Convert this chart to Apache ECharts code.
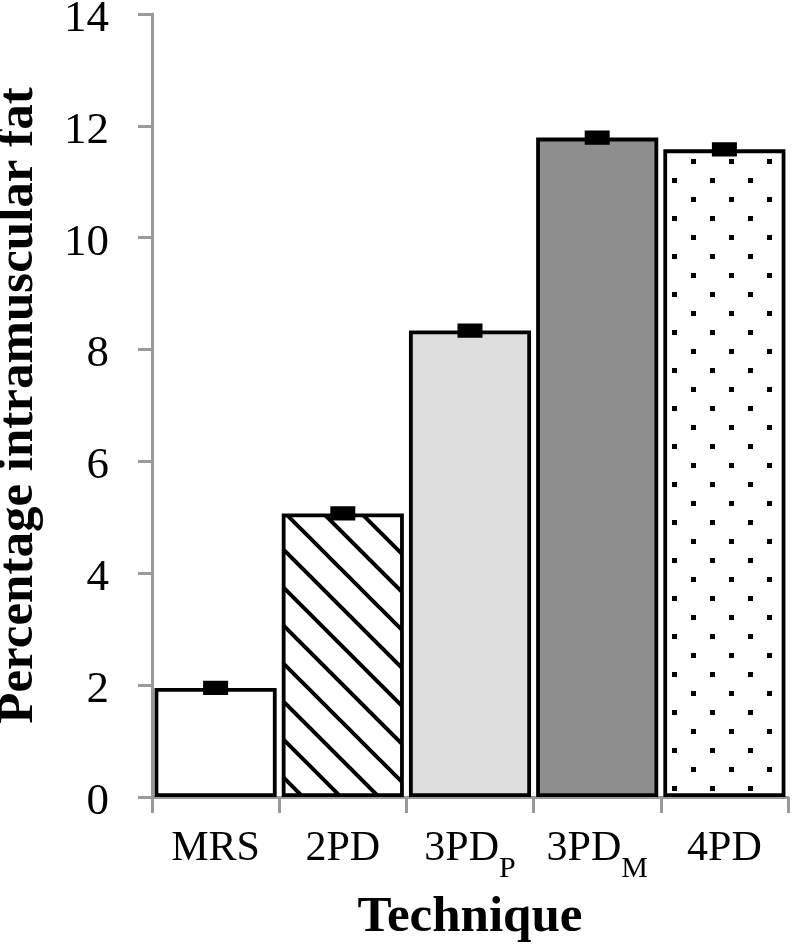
<!DOCTYPE html>
<html>
<head>
<meta charset="utf-8">
<script src="https://cdn.jsdelivr.net/npm/echarts@6/dist/echarts.min.js"></script>
<style>
html,body{margin:0;padding:0;background:#fff;}
#chart{width:795px;height:950px;}
</style>
</head>
<body>
<div id="chart"></div>
<script>
// ---- data ----
var categories = ['MRS', '2PD', '3PD_P', '3PD_M', '4PD'];
var values = [1.95, 5.07, 8.34, 11.79, 11.58];
var errors = [0.1, 0.1, 0.1, 0.1, 0.1];
var yTicks = [0, 2, 4, 6, 8, 10, 12, 14];

// ---- patterns ----
function stripePattern() {
  var s = 38, c = document.createElement('canvas');
  c.width = s; c.height = s;
  var g = c.getContext('2d');
  g.fillStyle = '#fff'; g.fillRect(0, 0, s, s);
  g.strokeStyle = '#000'; g.lineWidth = 4;
  g.beginPath();
  g.moveTo(-4, -4); g.lineTo(s + 4, s + 4);
  g.moveTo(-4, s - 4); g.lineTo(4, s + 4);
  g.moveTo(s - 4, -4); g.lineTo(s + 4, 4);
  g.stroke();
  return c;
}
function dotPattern() {
  var s = 38, c = document.createElement('canvas');
  c.width = s; c.height = s;
  var g = c.getContext('2d');
  g.fillStyle = '#fff'; g.fillRect(0, 0, s, s);
  g.fillStyle = '#000';
  g.fillRect(7, 7, 5, 5);
  g.fillRect(26, 26, 5, 5);
  return c;
}
var fills = [
  '#ffffff',
  { image: stripePattern(), repeat: 'repeat' },
  '#dddddd',
  '#8e8e8e',
  { image: dotPattern(), repeat: 'repeat' }
];

var FONT = 'Liberation Serif';
var chart = echarts.init(document.getElementById('chart'), null, { renderer: 'canvas' });

chart.setOption({
  animation: false,
  backgroundColor: '#fff',
  grid: { left: 152, right: 7, top: 14, bottom: 153, containLabel: false, outerBoundsMode: 'none' },
  xAxis: {
    type: 'category',
    data: categories,
    name: 'Technique',
    nameLocation: 'middle',
    nameGap: 95,
    nameTextStyle: { fontFamily: FONT, fontWeight: 'bold', fontSize: 51, color: '#000', verticalAlign: 'top' },
    axisLine: { show: true, lineStyle: { color: '#999', width: 3 } },
    axisTick: { show: true, length: 16, interval: 0, lineStyle: { color: '#999', width: 3 } },
    axisLabel: {
      interval: 0,
      margin: 31,
      formatter: function (v) {
        var p = v.split('_');
        return p.length > 1 ? '{a|' + p[0] + '}{s|' + p[1] + '}' : '{a|' + v + '}';
      },
      rich: {
        a: { fontFamily: FONT, fontSize: 42, color: '#000', lineHeight: 48, verticalAlign: 'top' },
        s: { fontFamily: FONT, fontSize: 30, color: '#000', lineHeight: 30, padding: [26, 0, 0, 0], verticalAlign: 'top' }
      }
    },
    splitLine: { show: false }
  },
  yAxis: {
    type: 'value',
    min: yTicks[0],
    max: yTicks[yTicks.length - 1],
    interval: 2,
    name: 'Percentage intramuscular fat',
    nameLocation: 'middle',
    nameGap: 108,
    nameTextStyle: { fontFamily: FONT, fontWeight: 'bold', fontSize: 51, color: '#000' },
    axisLine: { show: true, lineStyle: { color: '#999', width: 3 } },
    axisTick: { show: true, length: 14, lineStyle: { color: '#999', width: 3 } },
    axisLabel: {
      margin: 43,
      formatter: function (v) { return '{n|' + v + '}'; },
      rich: {
        n: { fontFamily: FONT, fontSize: 45, color: '#000', lineHeight: 45, padding: [10, 0, 0, 0] }
      }
    },
    splitLine: { show: false }
  },
  series: [
    {
      type: 'bar',
      barWidth: '96%',
      data: values.map(function (v, i) {
        return { value: v, itemStyle: { color: fills[i], borderColor: '#000', borderWidth: 3.8 } };
      }),
      z: 2
    },
    {
      type: 'custom',
      z: 5,
      data: values.map(function (v, i) { return [i, v, errors[i]]; }),
      renderItem: function (params, api) {
        var i = api.value(0), v = api.value(1), e = api.value(2);
        var hi = api.coord([i, v + e]);
        var lo = api.coord([i, v - e]);
        var w = 11;
        return {
          type: 'rect',
          shape: { x: hi[0] - w, y: hi[1], width: 2 * w, height: lo[1] - hi[1] },
          style: { fill: '#000', stroke: '#000', lineWidth: 3 }
        };
      }
    }
  ]
});
</script>
</body>
</html>
